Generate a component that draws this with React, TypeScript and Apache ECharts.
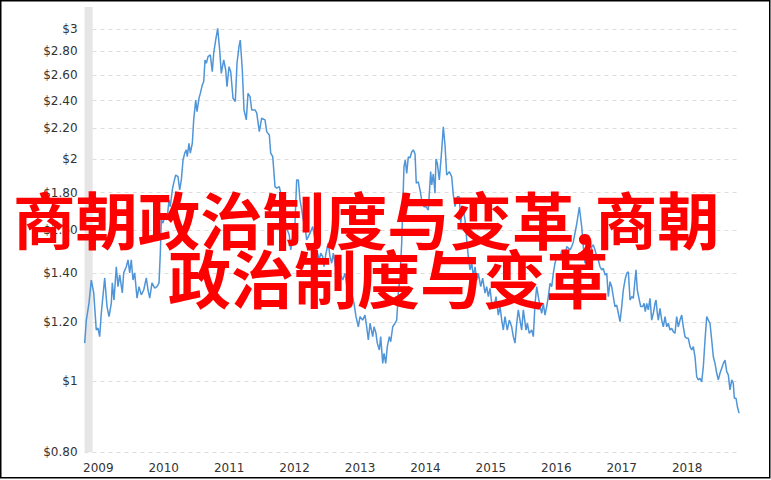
import React, { useEffect, useRef } from "react";
import * as echarts from "echarts";

// Time in fractional years
const dates = [
  2008.792, 2008.817, 2008.858, 2008.893, 2008.93, 2008.969, 2008.995, 2009.021, 2009.046, 2009.098,
  2009.133, 2009.164, 2009.199, 2009.214, 2009.24, 2009.275, 2009.301, 2009.327, 2009.367, 2009.388,
  2009.428, 2009.454, 2009.48, 2009.504, 2009.53, 2009.556, 2009.592, 2009.622, 2009.657, 2009.694,
  2009.734, 2009.76, 2009.786, 2009.821, 2009.862, 2009.897, 2009.928, 2009.948, 2009.963, 2009.989,
  2010.015, 2010.05, 2010.081, 2010.1, 2010.131, 2010.152, 2010.183, 2010.218, 2010.244, 2010.269,
  2010.295, 2010.321, 2010.345, 2010.36, 2010.386, 2010.406, 2010.437, 2010.458, 2010.489, 2010.509,
  2010.539, 2010.559, 2010.59, 2010.611, 2010.631, 2010.651, 2010.677, 2010.712, 2010.742, 2010.764,
  2010.794, 2010.825, 2010.855, 2010.88, 2010.917, 2010.947, 2010.967, 2010.998, 2011.024, 2011.059,
  2011.094, 2011.12, 2011.15, 2011.17, 2011.201, 2011.227, 2011.262, 2011.288, 2011.319, 2011.345,
  2011.395, 2011.421, 2011.461, 2011.497, 2011.548, 2011.574, 2011.614, 2011.635, 2011.666, 2011.701,
  2011.727, 2011.766, 2011.788, 2011.828, 2011.854, 2011.889, 2011.919, 2011.941, 2011.971, 2012.006,
  2012.032, 2012.057, 2012.083, 2012.109, 2012.133, 2012.159, 2012.185, 2012.236, 2012.277, 2012.312,
  2012.338, 2012.378, 2012.399, 2012.43, 2012.45, 2012.48, 2012.515, 2012.541, 2012.567, 2012.592,
  2012.633, 2012.668, 2012.694, 2012.735, 2012.771, 2012.806, 2012.847, 2012.873, 2012.908, 2012.939,
  2012.974, 2013.0, 2013.041, 2013.076, 2013.102, 2013.127, 2013.153, 2013.194, 2013.214, 2013.244,
  2013.264, 2013.295, 2013.316, 2013.347, 2013.367, 2013.393, 2013.417, 2013.448, 2013.469, 2013.5,
  2013.535, 2013.561, 2013.585, 2013.611, 2013.637, 2013.652, 2013.672, 2013.692, 2013.714, 2013.738,
  2013.764, 2013.79, 2013.815, 2013.841, 2013.86, 2013.891, 2013.917, 2013.943, 2013.978, 2014.009,
  2014.044, 2014.08, 2014.096, 2014.12, 2014.146, 2014.161, 2014.181, 2014.212, 2014.249, 2014.273,
  2014.299, 2014.325, 2014.365, 2014.401, 2014.426, 2014.452, 2014.487, 2014.518, 2014.539, 2014.57,
  2014.605, 2014.631, 2014.655, 2014.681, 2014.707, 2014.732, 2014.758, 2014.784, 2014.808, 2014.845,
  2014.875, 2014.91, 2014.936, 2014.961, 2014.987, 2015.013, 2015.048, 2015.079, 2015.114, 2015.14,
  2015.166, 2015.19, 2015.216, 2015.251, 2015.282, 2015.318, 2015.343, 2015.369, 2015.395, 2015.419,
  2015.445, 2015.471, 2015.496, 2015.537, 2015.557, 2015.587, 2015.624, 2015.649, 2015.675, 2015.701,
  2015.725, 2015.751, 2015.777, 2015.801, 2015.827, 2015.853, 2015.878, 2015.904, 2015.93, 2015.954,
  2015.98, 2016.006, 2016.031, 2016.057, 2016.083, 2016.107, 2016.133, 2016.159, 2016.184, 2016.21,
  2016.236, 2016.26, 2016.312, 2016.352, 2016.388, 2016.413, 2016.439, 2016.465, 2016.489, 2016.515,
  2016.541, 2016.566, 2016.592, 2016.618, 2016.642, 2016.668, 2016.694, 2016.719, 2016.745, 2016.771,
  2016.795, 2016.821, 2016.847, 2016.871, 2016.897, 2016.923, 2016.948, 2016.974, 2017.0, 2017.024,
  2017.05, 2017.076, 2017.101, 2017.127, 2017.153, 2017.177, 2017.203, 2017.218, 2017.238, 2017.269,
  2017.29, 2017.321, 2017.341, 2017.36, 2017.382, 2017.406, 2017.432, 2017.458, 2017.483, 2017.509,
  2017.524, 2017.544, 2017.559, 2017.585, 2017.611, 2017.636, 2017.662, 2017.688, 2017.712, 2017.738,
  2017.764, 2017.788, 2017.814, 2017.84, 2017.865, 2017.891, 2017.917, 2017.941, 2017.967, 2017.993,
  2018.018, 2018.044, 2018.07, 2018.094, 2018.12, 2018.146, 2018.17, 2018.196, 2018.222, 2018.247,
  2018.273, 2018.299, 2018.323, 2018.349, 2018.375, 2018.4, 2018.426, 2018.452, 2018.476, 2018.502,
  2018.528, 2018.553, 2018.579, 2018.605, 2018.629, 2018.655, 2018.681, 2018.705, 2018.721, 2018.747,
  2018.767, 2018.793,
];

// Price in dollars
const prices = [
  1.125, 1.209, 1.275, 1.37, 1.316, 1.172, 1.179, 1.148, 1.236, 1.379,
  1.261, 1.222, 1.275, 1.358, 1.287, 1.428, 1.342, 1.392, 1.316, 1.401,
  1.428, 1.459, 1.401, 1.459, 1.37, 1.401, 1.295, 1.342, 1.308, 1.328,
  1.379, 1.328, 1.295, 1.358, 1.336, 1.342, 1.358, 1.491, 1.653, 1.637,
  1.67, 1.653, 1.759, 1.723, 1.815, 1.854, 1.902, 1.892, 1.815, 1.873,
  1.993, 2.036, 2.057, 2.014, 2.1, 2.036, 2.1, 2.259, 2.404, 2.318,
  2.417, 2.454, 2.52, 2.545, 2.724, 2.696, 2.752, 2.767, 2.626, 2.782,
  2.899, 3.007, 2.81, 2.612, 2.724, 2.64, 2.506, 2.668, 2.626, 2.417,
  2.392, 2.696, 2.84, 2.899, 2.64, 2.33, 2.259, 2.454, 2.429, 2.33,
  2.33, 2.309, 2.178, 2.271, 2.259, 2.178, 2.155, 2.036, 2.014, 1.834,
  1.825, 1.834, 1.797, 1.705, 1.653, 1.602, 1.577, 1.505, 1.569, 1.636,
  1.873, 1.873, 1.759, 1.705, 1.653, 1.619, 1.553, 1.586, 1.619, 1.553,
  1.505, 1.459, 1.49, 1.474, 1.428, 1.49, 1.537, 1.474, 1.444, 1.49,
  1.414, 1.37, 1.399, 1.37, 1.399, 1.328, 1.399, 1.315, 1.274, 1.222,
  1.184, 1.222, 1.209, 1.228, 1.184, 1.136, 1.197, 1.148, 1.184, 1.16,
  1.125, 1.101, 1.148, 1.056, 1.09, 1.056, 1.113, 1.148, 1.13, 1.184,
  1.197, 1.209, 1.315, 1.385, 1.537, 1.705, 1.952, 1.993, 1.912, 2.012,
  2.006, 2.044, 2.057, 2.031, 1.854, 1.861, 1.815, 1.759, 1.723, 1.723,
  1.705, 1.922, 1.844, 1.908, 1.797, 2.0, 1.975, 1.873, 2.057, 2.21,
  2.089, 1.902, 1.922, 1.892, 1.787, 1.723, 1.778, 1.776, 1.636, 1.723,
  1.653, 1.553, 1.474, 1.414, 1.444, 1.385, 1.428, 1.37, 1.399, 1.342,
  1.378, 1.315, 1.342, 1.301, 1.335, 1.274, 1.261, 1.301, 1.228, 1.261,
  1.209, 1.172, 1.222, 1.172, 1.209, 1.184, 1.148, 1.125, 1.197, 1.248,
  1.209, 1.172, 1.248, 1.172, 1.197, 1.16, 1.172, 1.148, 1.274, 1.342,
  1.301, 1.261, 1.235, 1.274, 1.228, 1.261, 1.301, 1.356, 1.342, 1.399,
  1.444, 1.474, 1.474, 1.459, 1.505, 1.414, 1.474, 1.521, 1.514, 1.505,
  1.521, 1.543, 1.632, 1.721, 1.619, 1.521, 1.444, 1.459, 1.474, 1.428,
  1.521, 1.529, 1.505, 1.474, 1.459, 1.428, 1.414, 1.421, 1.392, 1.399,
  1.301, 1.363, 1.342, 1.301, 1.261, 1.267, 1.235, 1.203, 1.261, 1.328,
  1.37, 1.399, 1.406, 1.287, 1.301, 1.294, 1.37, 1.414, 1.328, 1.287,
  1.261, 1.261, 1.274, 1.241, 1.274, 1.248, 1.294, 1.209, 1.235, 1.274,
  1.287, 1.235, 1.209, 1.254, 1.209, 1.184, 1.222, 1.184, 1.197, 1.172,
  1.178, 1.166, 1.16, 1.222, 1.184, 1.209, 1.228, 1.184, 1.148, 1.142,
  1.142, 1.113, 1.101, 1.113, 1.078, 1.013, 1.003, 1.008, 0.997, 1.045,
  1.136, 1.222, 1.209, 1.197, 1.136, 1.078, 1.056, 1.024, 1.003, 1.024,
  1.04, 1.056, 1.067, 1.029, 1.019, 0.972, 1.003, 0.992, 0.947, 0.947,
  0.923, 0.904,
];

const priceTicks = [0.8, 1, 1.2, 1.4, 1.6, 1.8, 2, 2.2, 2.4, 2.6, 2.8, 3];
const yearTicks = [2009, 2010, 2011, 2012, 2013, 2014, 2015, 2016, 2017, 2018];
const shadedSpan = [2008.79, 2008.914];
const xRange = [2008.79, 2018.8];
const priceRange = [0.8, 3.214];
const titleLines = ["商朝政治制度与变革,商朝", "政治制度与变革"];

const LABEL_FONT = '"DejaVu Sans", Verdana, sans-serif';
const CJK_FONT = '"Noto Sans CJK SC", "Noto Sans CJK JP", sans-serif';

function formatPrice(v: number): string {
  const p = Math.round(Math.exp(v) * 100) / 100;
  return Number.isInteger(p) ? `$${p}` : `$${p.toFixed(2)}`;
}

export default function App() {
  const ref = useRef<HTMLDivElement>(null);

  useEffect(() => {
    document.body.style.margin = "0";
    if (!ref.current) return;
    const chart = echarts.init(ref.current, undefined, { renderer: "svg" });
    const logTicks = priceTicks.map((p) => Math.log(p));

    chart.setOption({
      animation: false,
      backgroundColor: "#ffffff",
      grid: { left: 84.56, right: 31.5, top: 7, bottom: 27.7, containLabel: false },
      xAxis: {
        type: "value",
        min: xRange[0],
        max: xRange[1],
        axisLine: { show: false },
        axisTick: { show: false },
        splitLine: { show: false },
        axisLabel: {
          customValues: yearTicks,
          formatter: (v: number) => String(Math.round(v)),
          color: "#333333",
          fontFamily: LABEL_FONT,
          fontSize: 12,
          margin: 10,
        },
      },
      yAxis: {
        type: "value",
        min: Math.log(priceRange[0]),
        max: Math.log(priceRange[1]),
        axisLine: { show: false },
        axisTick: { show: false, customValues: logTicks },
        axisLabel: {
          customValues: logTicks,
          formatter: formatPrice,
          color: "#333333",
          fontFamily: LABEL_FONT,
          fontSize: 12,
          margin: 7,
        },
        splitLine: {
          show: true,
          lineStyle: { color: "#dddddd", width: 1, type: [4, 4] },
        },
      },
      series: [
        {
          type: "line",
          data: dates.map((d, i) => [d, Math.log(prices[i])]),
          showSymbol: false,
          symbol: "none",
          lineStyle: { color: "#4f95d8", width: 1.5 },
          silent: true,
          markArea: {
            silent: true,
            itemStyle: { color: "#e6e6e6" },
            data: [[{ xAxis: shadedSpan[0] }, { xAxis: shadedSpan[1] }]],
          },
        },
      ],
      graphic: [
        {
          type: "rect",
          silent: true,
          z: 100,
          shape: { x: 0.75, y: 0.75, width: 769, height: 477 },
          style: { fill: "none", stroke: "#000000", lineWidth: 1.5 },
        },
        {
          type: "text",
          z: 101,
          x: 13,
          y: 218,
          style: {
            text: titleLines[0],
            fill: "#ff0000",
            font: `bold 62.4px ${CJK_FONT}`,
            textVerticalAlign: "middle",
            textAlign: "left",
          },
        },
        {
          type: "text",
          z: 101,
          x: 168,
          y: 275,
          style: {
            text: titleLines[1],
            fill: "#ff0000",
            font: `bold 63px ${CJK_FONT}`,
            textVerticalAlign: "middle",
            textAlign: "left",
          },
        },
      ],
    });

    return () => chart.dispose();
  }, []);

  return <div ref={ref} style={{ width: 771, height: 480 }} />;
}
